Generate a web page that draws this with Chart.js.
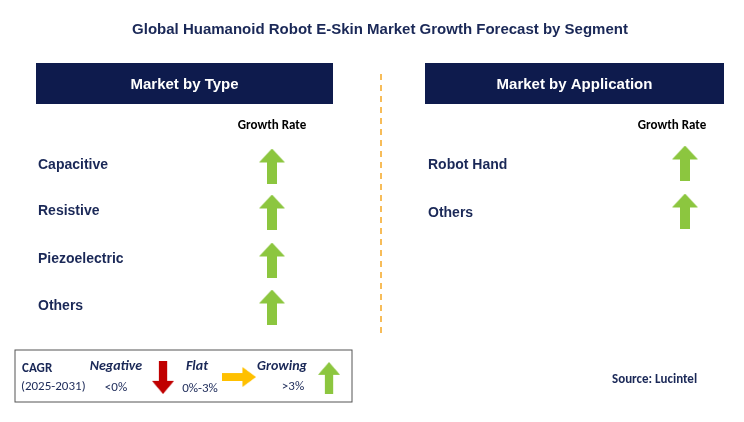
<!DOCTYPE html>
<html><head><meta charset="utf-8">
<script src="https://cdn.jsdelivr.net/npm/chart.js@4"></script>
<style>html,body{margin:0;background:#fff}#wrap{width:744px;height:422px}</style>
</head><body><div id="wrap"><canvas id="c"></canvas></div>
<script>
const title = "Global Huamanoid Robot E-Skin Market Growth Forecast by Segment";
const panels = ["Market by Type", "Market by Application"];
const typeLabels = ["Capacitive", "Resistive", "Piezoelectric", "Others"];
const typeRows = [166, 212, 260, 307];
const appLabels = ["Robot Hand", "Others"];
const appRows = [163, 211];
const typeTrend = ["up", "up", "up", "up"];
const appTrend = ["up", "up"];
const navy = "#1a2857", boxNavy = "#0e1b4d";

function arrow(dir) {
  const c = document.createElement("canvas");
  const w = 26, h = 35;
  c.width = dir === "right" ? h : w; c.height = dir === "right" ? w : h;
  const g = c.getContext("2d");
  g.fillStyle = dir === "up" ? "#8cc63f" : dir === "down" ? "#c00000" : "#ffc000";
  g.beginPath();
  if (dir === "up") { g.moveTo(13,0); g.lineTo(26,14); g.lineTo(18,14); g.lineTo(18,35); g.lineTo(8,35); g.lineTo(8,14); g.lineTo(0,14); }
  else if (dir === "down") { g.moveTo(13,35); g.lineTo(26,21); g.lineTo(18,21); g.lineTo(18,0); g.lineTo(8,0); g.lineTo(8,21); g.lineTo(0,21); }
  else { g.moveTo(35,13); g.lineTo(21,0); g.lineTo(21,8); g.lineTo(0,8); g.lineTo(0,18); g.lineTo(21,18); g.lineTo(21,26); }
  g.closePath(); g.fill();
  return c;
}
const icons = {up: arrow("up"), down: arrow("down"), right: arrow("right")};

const deco = {
  id: "deco",
  afterDatasetsDraw(ch) {
    const g = ch.ctx, xs = ch.scales.x, ys = ch.scales.y;
    const X = v => xs.getPixelForValue(v), Y = v => ys.getPixelForValue(v + 2);
    g.save();
    g.textBaseline = "middle";
    g.fillStyle = navy; g.font = "bold 15px Arial, 'Liberation Sans'"; g.textAlign = "center";
    g.fillText(title, X(380), Y(28));
    [[36, 333], [425, 724]].forEach((p, i) => {
      g.fillStyle = boxNavy; g.fillRect(X(p[0]), Y(61), X(p[1]) - X(p[0]), 41);
      g.fillStyle = "#fff"; g.font = "bold 15px Arial, 'Liberation Sans'";
      g.fillText(panels[i], X((p[0] + p[1]) / 2), Y(83));
    });
    g.fillStyle = "#000"; g.font = "bold 13px Carlito, Calibri, 'Liberation Sans'";
    g.fillText("Growth Rate", X(272), Y(124)); g.fillText("Growth Rate", X(672), Y(124));
    g.fillStyle = navy; g.font = "bold 14px Arial, 'Liberation Sans'"; g.textAlign = "left";
    typeLabels.forEach((l, i) => g.fillText(l, X(38), Y(typeRows[i] - 3)));
    appLabels.forEach((l, i) => g.fillText(l, X(428), Y(appRows[i])));
    g.strokeStyle = "#f5a623"; g.lineWidth = 1.5; g.setLineDash([6, 5]);
    g.beginPath(); g.moveTo(X(381), Y(72)); g.lineTo(X(381), Y(336)); g.stroke(); g.setLineDash([]);
    // legend box
    g.strokeStyle = "#555"; g.lineWidth = 1; g.strokeRect(X(15), Y(348), X(352) - X(15), 52);
    g.fillStyle = navy; g.font = "bold 13px Carlito, Calibri, 'Liberation Sans'"; g.fillText("CAGR", X(22), Y(367));
    g.font = "13px Carlito, Calibri, 'Liberation Sans'"; g.fillText("(2025-2031)", X(21), Y(385));
    g.font = "bold italic 14px Carlito, Calibri, 'Liberation Sans'"; g.textAlign = "center";
    g.fillText("Negative", X(116), Y(364)); g.fillText("Flat", X(197), Y(364)); g.fillText("Growing", X(282), Y(364));
    g.font = "13px Carlito, Calibri, 'Liberation Sans'";
    g.fillText("<0%", X(116), Y(386)); g.fillText("0%-3%", X(200), Y(387)); g.fillText(">3%", X(293), Y(385));
    g.drawImage(icons.down, X(152), Y(359), 22, 33);
    g.drawImage(icons.right, X(222), Y(365), 34, 20);
    g.drawImage(icons.up, X(318), Y(360), 22, 32);
    g.fillStyle = navy; g.font = "bold 13px Carlito, Calibri, 'Liberation Sans'"; g.textAlign = "left";
    g.fillText("Source: Lucintel", X(612), Y(378));
    g.restore();
  }
};

new Chart(document.getElementById("c"), {
  type: "scatter",
  data: { datasets: [
    { data: typeRows.map(y => ({x: 272, y})), pointStyle: typeTrend.map(t => icons[t]) },
    { data: appRows.map(y => ({x: 685, y})), pointStyle: appTrend.map(t => icons[t]) }
  ]},
  options: {
    responsive: true, maintainAspectRatio: false, animation: false,
    layout: { padding: 0, autoPadding: false },
    plugins: { legend: { display: false }, tooltip: { enabled: false } },
    scales: {
      x: { type: "linear", min: 0, max: 744, display: false },
      y: { type: "linear", min: 0, max: 422, reverse: true, display: false }
    }
  },
  plugins: [deco]
});
</script></body></html>
